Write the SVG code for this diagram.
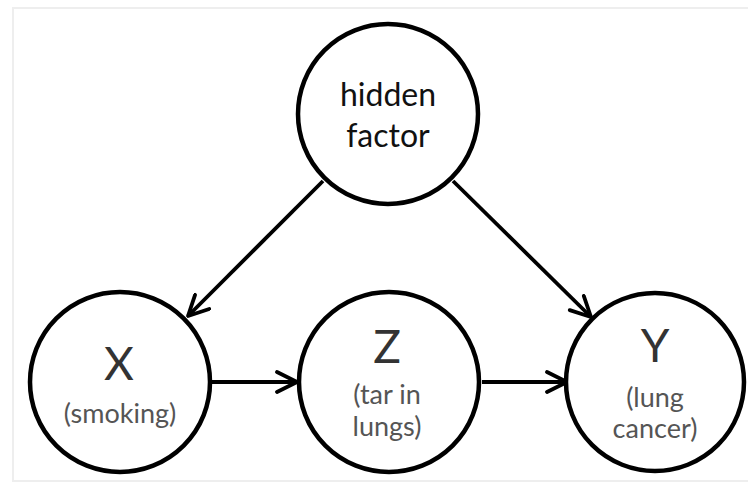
<svg xmlns="http://www.w3.org/2000/svg" width="748" height="485" viewBox="0 0 748 485">
<style>
.node circle{fill:#fff;stroke:#000;stroke-width:4.5}
.t{font-family:Lato,"Open Sans","Liberation Sans",sans-serif;text-anchor:middle}
.big{font-size:46px;fill:#333}
.lbl{font-size:32px;fill:#111}
.sub{font-size:27px;fill:#555}
.edge{stroke:#000;stroke-width:3.8;fill:none}
</style>
<defs>
<marker id="arr" markerUnits="userSpaceOnUse" viewBox="0 0 24 24" markerWidth="24" markerHeight="24" refX="22" refY="12" orient="auto">
<path d="M2,2 L22,12 L2,22" fill="none" stroke="#000" stroke-width="3.8" stroke-linecap="round" stroke-linejoin="round"/>
</marker>
</defs>
<rect x="0" y="0" width="748" height="485" fill="#fff"/>
<rect x="13" y="8" width="745" height="473" fill="none" stroke="#eeeeee" stroke-width="2"/>
<g id="connectors">
<line class="edge" x1="323" y1="181" x2="188" y2="316" marker-end="url(#arr)"/>
<line class="edge" x1="453" y1="181" x2="591" y2="317" marker-end="url(#arr)"/>
<line class="edge" x1="212" y1="382" x2="297" y2="382" marker-end="url(#arr)"/>
<line class="edge" x1="482" y1="382" x2="567" y2="382" marker-end="url(#arr)"/>
</g>
<g id="node-hidden" class="node">
<circle cx="388" cy="114" r="90"/>
<text class="t lbl" x="388" y="106">hidden</text>
<text class="t lbl" x="388" y="147">factor</text>
</g>
<g id="node-x" class="node">
<circle cx="120" cy="382" r="90"/>
<text class="t big" x="119" y="380">X</text>
<text class="t sub" x="120" y="423">(smoking)</text>
</g>
<g id="node-z" class="node">
<circle cx="389" cy="382" r="90"/>
<text class="t big" x="387" y="363">Z</text>
<text class="t sub" x="387" y="404">(tar in</text>
<text class="t sub" x="387" y="436">lungs)</text>
</g>
<g id="node-y" class="node">
<circle cx="655" cy="382" r="89"/>
<text class="t big" x="655" y="362">Y</text>
<text class="t sub" x="655" y="407">(lung</text>
<text class="t sub" x="655" y="438">cancer)</text>
</g>
</svg>
